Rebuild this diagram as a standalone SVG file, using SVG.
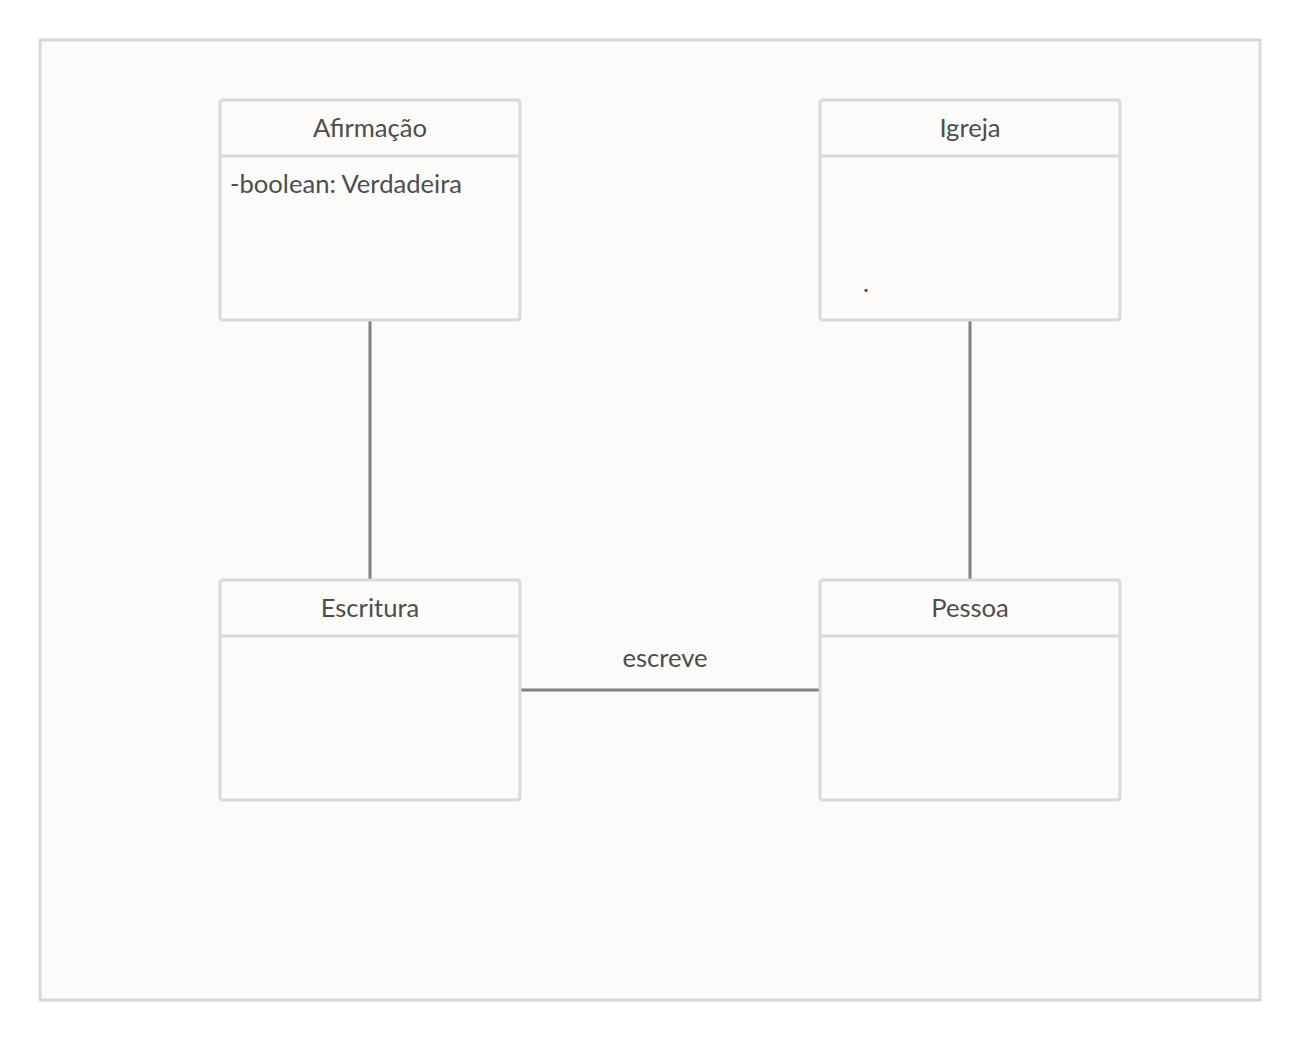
<svg xmlns="http://www.w3.org/2000/svg" width="1300" height="1040" viewBox="0 0 1300 1040">
<style>
.frame{fill:#fcfbfa;stroke:#d9d9d9;stroke-width:3}
.box{fill:#fcfbfa;stroke:#d9d9d9;stroke-width:3}
.div{stroke:#d9d9d9;stroke-width:3}
.t{font-family:Lato,"Liberation Sans",sans-serif;font-size:25.6px;fill:#4d4d4d}
.c{stroke:#808080;stroke-width:3;fill:none}
</style>
<rect width="1300" height="1040" fill="#ffffff"/>
<rect class="frame" x="40" y="40" width="1220" height="960"/>
<g id="connectors">
<line class="c" x1="370" y1="320" x2="370" y2="580"/>
<line class="c" x1="970" y1="320" x2="970" y2="580"/>
<line class="c" x1="520" y1="690" x2="820" y2="690"/>
<text class="t" x="665" y="667" text-anchor="middle">escreve</text>
</g>
<g id="afirmacao">
<rect class="box" x="220" y="100" width="300" height="220" rx="3"/>
<line class="div" x1="220" y1="156" x2="520" y2="156"/>
<text class="t" x="370" y="137" text-anchor="middle">Afirmação</text>
<text class="t" x="230" y="193">-boolean: Verdadeira</text>
</g>
<g id="igreja">
<rect class="box" x="820" y="100" width="300" height="220" rx="3"/>
<line class="div" x1="820" y1="156" x2="1120" y2="156"/>
<text class="t" x="970" y="137" text-anchor="middle">Igreja</text>
<text class="t" x="863" y="292">.</text>
</g>
<g id="escritura">
<rect class="box" x="220" y="580" width="300" height="220" rx="3"/>
<line class="div" x1="220" y1="636" x2="520" y2="636"/>
<text class="t" x="370" y="617" text-anchor="middle">Escritura</text>
</g>
<g id="pessoa">
<rect class="box" x="820" y="580" width="300" height="220" rx="3"/>
<line class="div" x1="820" y1="636" x2="1120" y2="636"/>
<text class="t" x="970" y="617" text-anchor="middle">Pessoa</text>
</g>
</svg>
